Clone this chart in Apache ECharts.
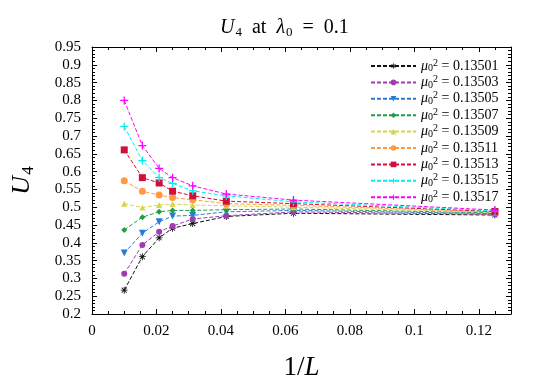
<!DOCTYPE html>
<html><head><meta charset="utf-8">
<script src="https://cdn.jsdelivr.net/npm/echarts@6/dist/echarts.min.js"></script>
<style>html,body{margin:0;padding:0;background:#fff}#c{width:540px;height:378px}</style>
</head><body><div id="c"></div>
<script>
const invL = [0.01, 0.015625, 0.0208333, 0.025, 0.03125, 0.0416667, 0.0625, 0.125];
const mu2 = ['0.13501','0.13503','0.13505','0.13507','0.13509','0.13511','0.13513','0.13515','0.13517'];
const u4_13501 = [0.267, 0.361, 0.414, 0.441, 0.454, 0.474, 0.483, 0.478];
const u4_13503 = [0.313, 0.394, 0.431, 0.447, 0.467, 0.476, 0.487, 0.480];
const u4_13505 = [0.371, 0.427, 0.459, 0.475, 0.477, 0.487, 0.491, 0.482];
const u4_13507 = [0.436, 0.472, 0.487, 0.491, 0.491, 0.493, 0.495, 0.484];
const u4_13509 = [0.510, 0.499, 0.506, 0.509, 0.506, 0.504, 0.500, 0.486];
const u4_13511 = [0.574, 0.545, 0.534, 0.527, 0.521, 0.510, 0.505, 0.487];
const u4_13513 = [0.661, 0.583, 0.568, 0.545, 0.532, 0.517, 0.510, 0.488];
const u4_13515 = [0.727, 0.631, 0.583, 0.567, 0.546, 0.532, 0.515, 0.490];
const u4_13517 = [0.800, 0.673, 0.609, 0.583, 0.560, 0.537, 0.520, 0.492];
const allU4 = [u4_13501,u4_13503,u4_13505,u4_13507,u4_13509,u4_13511,u4_13513,u4_13515,u4_13517];

const FONT = 'Liberation Serif';
const asterisk = 'path://M4.4,0 L5.6,0 L5.6,3.6 L8.2,1 L9,1.8 L6.4,4.4 L10,4.4 L10,5.6 L6.4,5.6 L9,8.2 L8.2,9 L5.6,6.4 L5.6,10 L4.4,10 L4.4,6.4 L1.8,9 L1,8.2 L3.6,5.6 L0,5.6 L0,4.4 L3.6,4.4 L1,1.8 L1.8,1 L4.4,3.6 Z';
const plus = 'path://M4.2,0 L5.8,0 L5.8,4.2 L10,4.2 L10,5.8 L5.8,5.8 L5.8,10 L4.2,10 L4.2,5.8 L0,5.8 L0,4.2 L4.2,4.2 Z';
const colors = ['#111111','#a03cb0','#2a7ad2','#1f9e40','#d6d64c','#ff9a40','#d0103a','#00f0f0','#ff00ff'];
const symbols = [asterisk,'circle','triangle','diamond','triangle','circle','rect',plus,plus];
const sizes = [7,6,7,6,6,7,7,8,8];
const rotates = [0,0,180,0,0,0,0,0,0];

const series = mu2.map((m,i)=>({
  name: m, type:'line',
  data: invL.map((x,j)=>[x, allU4[i][j]]),
  symbol: symbols[i], symbolSize: sizes[i], symbolRotate: rotates[i],
  lineStyle:{color:colors[i], width:1, type:[4,2]},
  itemStyle:{color:colors[i]},
  emphasis:{disabled:true}, animation:false, z: 10+i
}));

const chart = echarts.init(document.getElementById('c'));
const fmt2 = v => (+v.toFixed(2)).toString();
chart.setOption({
  animation:false,
  title:{
    text:'{i|U}{s|4}{n|  at  }{i|λ}{s|0}{n|  =  0.1}',
    left:215, top:11,
    textStyle:{fontFamily:FONT, fontSize:20, color:'#000', fontWeight:'normal',
      rich:{
        i:{fontFamily:FONT, fontSize:20, fontStyle:'italic', color:'#000'},
        n:{fontFamily:FONT, fontSize:20, color:'#000'},
        s:{fontFamily:FONT, fontSize:13, color:'#000', padding:[10,0,0,1]}
      }}
  },
  grid:{left:92, right:29, top:47, bottom:64, containLabel:false, outerBoundsMode:'none'},
  legend:{
    orient:'vertical', left:365, top:53, itemWidth:45, itemHeight:7, itemGap:0.4,
    data: mu2,
    formatter: n => '{m|μ}{b|0}{p|2}{t| = ' + n + '}',
    textStyle:{fontFamily:FONT, fontSize:14, color:'#000',
      rich:{
        m:{fontFamily:FONT, fontSize:14, fontStyle:'italic', color:'#000', lineHeight:16},
        b:{fontFamily:FONT, fontSize:10, color:'#000', padding:[5,0,0,0], lineHeight:10},
        p:{fontFamily:FONT, fontSize:10, color:'#000', padding:[0,0,6,0], lineHeight:10},
        t:{fontFamily:FONT, fontSize:14, color:'#000', lineHeight:16}
      }}
  },
  xAxis:[{
    type:'value', min:0, max:0.13, interval:0.02,
    name:'{n|1/}{i|L}', nameLocation:'middle', nameGap:40,
    nameTextStyle:{fontFamily:FONT, fontSize:27, color:'#000',
      rich:{n:{fontFamily:FONT,fontSize:27,color:'#000'}, i:{fontFamily:FONT,fontSize:27,fontStyle:'italic',color:'#000'}}},
    axisLine:{show:true, onZero:false, lineStyle:{color:'#000', width:1}},
    axisTick:{show:true, inside:true, length:5, lineStyle:{color:'#000'}},
    minorTick:{show:true, splitNumber:4, length:3, lineStyle:{color:'#000'}},
    splitLine:{show:false},
    axisLabel:{fontFamily:FONT, fontSize:15, color:'#000', margin:10,
      formatter: v => (Math.abs(v-0.13)<1e-9 ? '' : fmt2(v))}
  },{
    type:'value', min:0, max:0.13, interval:0.02, position:'top',
    axisLine:{show:true, onZero:false, lineStyle:{color:'#000', width:1}},
    axisTick:{show:true, inside:true, length:5, lineStyle:{color:'#000'}},
    minorTick:{show:true, splitNumber:4, length:3, lineStyle:{color:'#000'}},
    splitLine:{show:false}, axisLabel:{show:false}
  }],
  yAxis:[{
    type:'value', min:0.2, max:0.95, interval:0.05,
    name:'{i|U}{s|4}', nameLocation:'middle', nameGap:55, nameRotate:90,
    nameTextStyle:{fontFamily:FONT, fontSize:26, color:'#000',
      rich:{i:{fontFamily:FONT,fontSize:26,fontStyle:'italic',color:'#000'}, s:{fontFamily:FONT,fontSize:17,color:'#000',padding:[12,0,0,1]}}},
    axisLine:{show:true, onZero:false, lineStyle:{color:'#000', width:1}},
    axisTick:{show:true, inside:true, length:5, lineStyle:{color:'#000'}},
    minorTick:{show:true, splitNumber:5, length:3, lineStyle:{color:'#000'}},
    splitLine:{show:false},
    axisLabel:{fontFamily:FONT, fontSize:15, color:'#000', margin:11, formatter: v => fmt2(v)}
  },{
    type:'value', min:0.2, max:0.95, interval:0.05, position:'right',
    axisLine:{show:true, onZero:false, lineStyle:{color:'#000', width:1}},
    axisTick:{show:true, inside:true, length:5, lineStyle:{color:'#000'}},
    minorTick:{show:true, splitNumber:5, length:3, lineStyle:{color:'#000'}},
    splitLine:{show:false}, axisLabel:{show:false}
  }],
  series: series
});
</script></body></html>
